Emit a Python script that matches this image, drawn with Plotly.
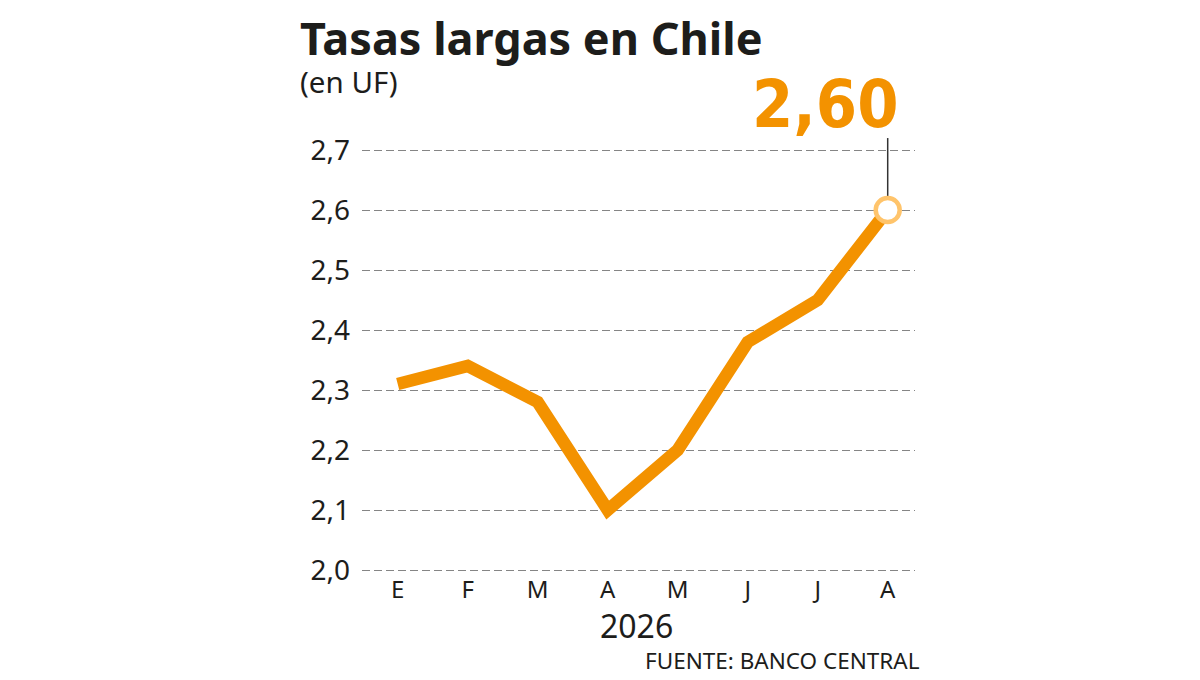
import plotly.graph_objects as go

# monthly values, 2026
months = ["E", "F", "M", "A", "M", "J", "J", "A"]
tasas = [2.31, 2.34, 2.28, 2.10, 2.20, 2.38, 2.45, 2.60]
y_ticks = [2.0, 2.1, 2.2, 2.3, 2.4, 2.5, 2.6, 2.7]

x_pos = list(range(len(months)))
orange = "#F39200"
ring = "#FFC46B"
txt = "#1d1d1b"

y_lo, y_hi = 1.995, 2.705

fig = go.Figure()

fig.add_trace(go.Scatter(
    x=x_pos, y=tasas, mode="lines",
    line=dict(color=orange, width=12.5, shape="linear"),
    hoverinfo="skip", showlegend=False,
))

# last point marker
fig.add_trace(go.Scatter(
    x=[x_pos[-1]], y=[tasas[-1]], mode="markers",
    marker=dict(size=24, color="white", line=dict(color=ring, width=4.5)),
    hoverinfo="skip", showlegend=False,
))

# leader line from last point up to the label
fig.add_shape(type="line", xref="x", yref="paper",
              x0=x_pos[-1], x1=x_pos[-1],
              y0=(tasas[-1] + 0.022 - y_lo) / (y_hi - y_lo), y1=1.021,
              line=dict(color="#333333", width=1.5), layer="below")

fig.add_annotation(
    x=x_pos[-1], y=1.0, xref="x", yref="paper",
    text="<b>" + f"{tasas[-1]:.2f}".replace(".", ",") + "</b>",
    showarrow=False, xanchor="right", yanchor="bottom", xshift=13, yshift=2,
    font=dict(family="DejaVu Sans Condensed", size=66, color=orange),
)

# title + subtitle in one block
fig.add_annotation(x=-0.1157, y=1.0, xref="paper", yref="paper", yshift=43,
                   text="<span style='font-size:45px'><b>Tasas largas en Chile</b></span>"
                        "<br>(en UF)",
                   showarrow=False, align="left",
                   xanchor="left", yanchor="bottom",
                   font=dict(family="Noto Sans", size=29.5, color=txt))
fig.add_annotation(x=0.497, y=0, xref="paper", yref="paper", yshift=-52,
                   text="2026", showarrow=False, xanchor="center", yanchor="middle",
                   font=dict(family="Noto Sans", size=32, color=txt))
fig.add_annotation(x=1.0127, y=0, xref="paper", yref="paper", yshift=-87,
                   text="FUENTE: BANCO CENTRAL", showarrow=False,
                   xanchor="right", yanchor="middle",
                   font=dict(family="Noto Sans", size=22.5, color=txt))

fig.update_xaxes(
    range=[-0.51, 7.39], tickvals=x_pos, ticktext=months,
    showgrid=False, zeroline=False, showline=False, ticks="",
    tickfont=dict(family="Noto Sans", size=24, color=txt),
    fixedrange=True,
)
fig.update_yaxes(
    range=[y_lo, y_hi], tickvals=y_ticks, tickformat=".1f",
    showgrid=True, gridcolor="#858585", griddash="8px,4px", gridwidth=1,
    zeroline=False, showline=False, ticks="", ticklabelstandoff=11,
    tickfont=dict(family="Noto Sans", size=28, color=txt),
    fixedrange=True,
)

fig.update_layout(
    width=1200, height=680,
    margin=dict(l=354, r=293, t=139, b=115),
    paper_bgcolor="white", plot_bgcolor="white",
    separators=",.",
    showlegend=False,
)

fig.write_html("out.html")
